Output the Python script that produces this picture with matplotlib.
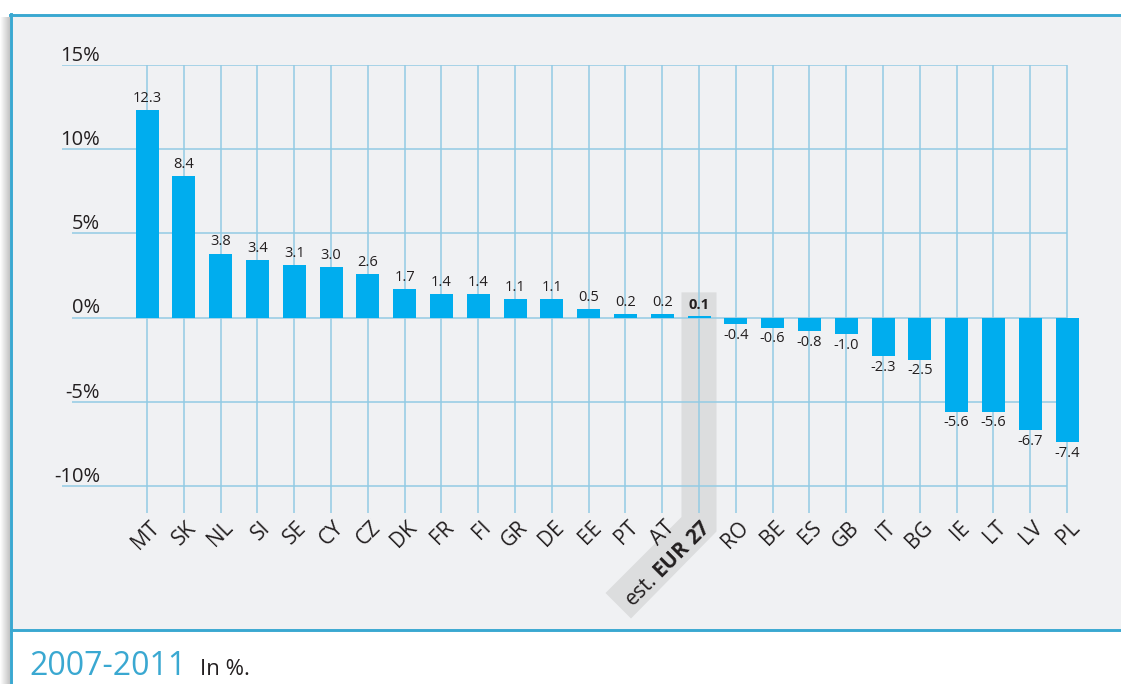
import numpy as np
import matplotlib.pyplot as plt
from matplotlib.patches import Rectangle, Polygon
from matplotlib.lines import Line2D
from matplotlib.colors import LinearSegmentedColormap
from matplotlib.transforms import IdentityTransform, ScaledTranslation

plt.rcParams["font.family"] = ["Open Sans", "DejaVu Sans"]
plt.rcParams["mathtext.fontset"] = "custom"
plt.rcParams["mathtext.rm"] = "Open Sans"
plt.rcParams["mathtext.bf"] = "Open Sans:bold"

# data: change 2007-2011, in %
countries = ["MT", "SK", "NL", "SI", "SE", "CY", "CZ", "DK", "FR", "FI", "GR", "DE", "EE",
             "PT", "AT", "EUR 27", "RO", "BE", "ES", "GB", "IT", "BG", "IE", "LT", "LV", "PL"]
change = [12.3, 8.4, 3.8, 3.4, 3.1, 3.0, 2.6, 1.7, 1.4, 1.4, 1.1, 1.1, 0.5,
          0.2, 0.2, 0.1, -0.4, -0.6, -0.8, -1.0, -2.3, -2.5, -5.6, -5.6, -6.7, -7.4]
y_ticks = [15, 10, 5, 0, -5, -10]
highlight = "EUR 27"

BAR = "#00ADEE"
GRID = "#93CBE4"
BORDER = "#3AA8D1"
PANEL = "#F0F1F3"
BAND = "#DCDDDE"
TEXT = "#231F20"

W, H = 1121, 684
fig = plt.figure(figsize=(W / 100, H / 100), dpi=100)
fig.patch.set_facecolor("white")

# grey panel + frame
fig.add_artist(Rectangle((11 / W, 1 - 630 / H), 1, (630 - 15) / H,
                         transform=fig.transFigure, facecolor=PANEL, edgecolor="none", zorder=-10))
sh = fig.add_axes([0, 0, 10 / W, 1 - 17 / H], zorder=-9)
sh.imshow(np.linspace(0, 1, 20)[None, :], aspect="auto",
          cmap=LinearSegmentedColormap.from_list("sh", ["#FFFFFF", "#C4C4C4"]))
sh.axis("off")
for xs, ys in [([10 / W, 1], [1 - 15 / H] * 2),
               ([11 / W] * 2, [0, 1 - 14 / H]),
               ([11 / W, 1], [1 - 630 / H] * 2)]:
    fig.add_artist(Line2D(xs, ys, transform=fig.transFigure, color=BORDER, lw=2.1, zorder=5))

# chart
ax = fig.add_axes([62 / W, 1 - 513 / H, (1085 - 62) / W, (513 - 65) / H])
ax.set_facecolor("none")
for s in ax.spines.values():
    s.set_visible(False)
step = 36.8
ax.set_xlim((62 - 147) / step, (1085 - 147) / step)
ymin = -11.6
ax.set_ylim(ymin, 15)

x = np.arange(len(countries))
hi = countries.index(highlight)

ax.vlines(x, ymin, 15, color=GRID, lw=1.1, zorder=1)
ax.bar(x, change, width=0.625, color=BAR, zorder=2)

for i, v in enumerate(change):
    ax.annotate(f"{v:.1f}", (i, v), xytext=(0, 3 if v >= 0 else -2.5), textcoords="offset points",
                ha="center", va="bottom" if v >= 0 else "top", fontsize=10.5, color=TEXT,
                fontweight="bold" if i == hi else "normal", zorder=3)

labels = [("est. $\\mathbf{EUR\\ 27}$" if c == highlight else c) for c in countries]
ax.set_xticks(x)
ax.set_xticklabels(labels, rotation=45, ha="right", va="top", rotation_mode="anchor",
                   fontsize=15, color=TEXT)
ax.tick_params(axis="x", length=0, pad=3)
off = ScaledTranslation(1.5 / 72, 0, fig.dpi_scale_trans)
for lab in ax.get_xticklabels():
    lab.set_transform(lab.get_transform() + off)
ax.set_yticks([])

ylabels = []
for v in y_ticks:
    t = ax.annotate(f"{v}%", xy=(0, v), xycoords=ax.get_yaxis_transform(),
                    xytext=(27.5, 3), textcoords="offset points",
                    ha="right", va="baseline", fontsize=14.5, color=TEXT)
    ylabels.append(t)

fig.canvas.draw()
r = fig.canvas.get_renderer()
dash = ax.annotate("-", xy=(0, 0), fontsize=14.5)
dash_w = dash.get_window_extent(r).width
dash.remove()
for v, t in zip(y_ticks, ylabels):
    x0 = t.get_window_extent(r).x0
    if v < 0:
        x0 += dash_w
    xd = ax.transData.inverted().transform((x0, 0))[0]
    ax.hlines(v, xd, len(countries) - 1, color=GRID, lw=1.1, zorder=1)

# grey band behind the EUR 27 column and its label
cx, ytop = ax.transData.transform((hi, 1.5))
yb = ax.transData.transform((0, ymin))[1]
hw = 17.5
diag = 76
band = [(cx - hw, ytop), (cx + hw, ytop), (cx + hw, yb - 18.5),
        (cx - hw - diag + 25.5, yb - 4 - diag - 25.5), (cx - hw - diag, yb - 4 - diag),
        (cx - hw, yb - 4)]
ax.add_patch(Polygon(band, closed=True, transform=IdentityTransform(),
                     facecolor=BAND, edgecolor="none", clip_on=False, zorder=0.5))

fig.text(29 / W, 1 - 675 / H, "2007-2011", fontsize=23, color=BORDER, va="baseline")
fig.text(200 / W, 1 - 675 / H, "In %.", fontsize=16, color=TEXT, va="baseline")

fig.savefig("out.png", dpi=100)
